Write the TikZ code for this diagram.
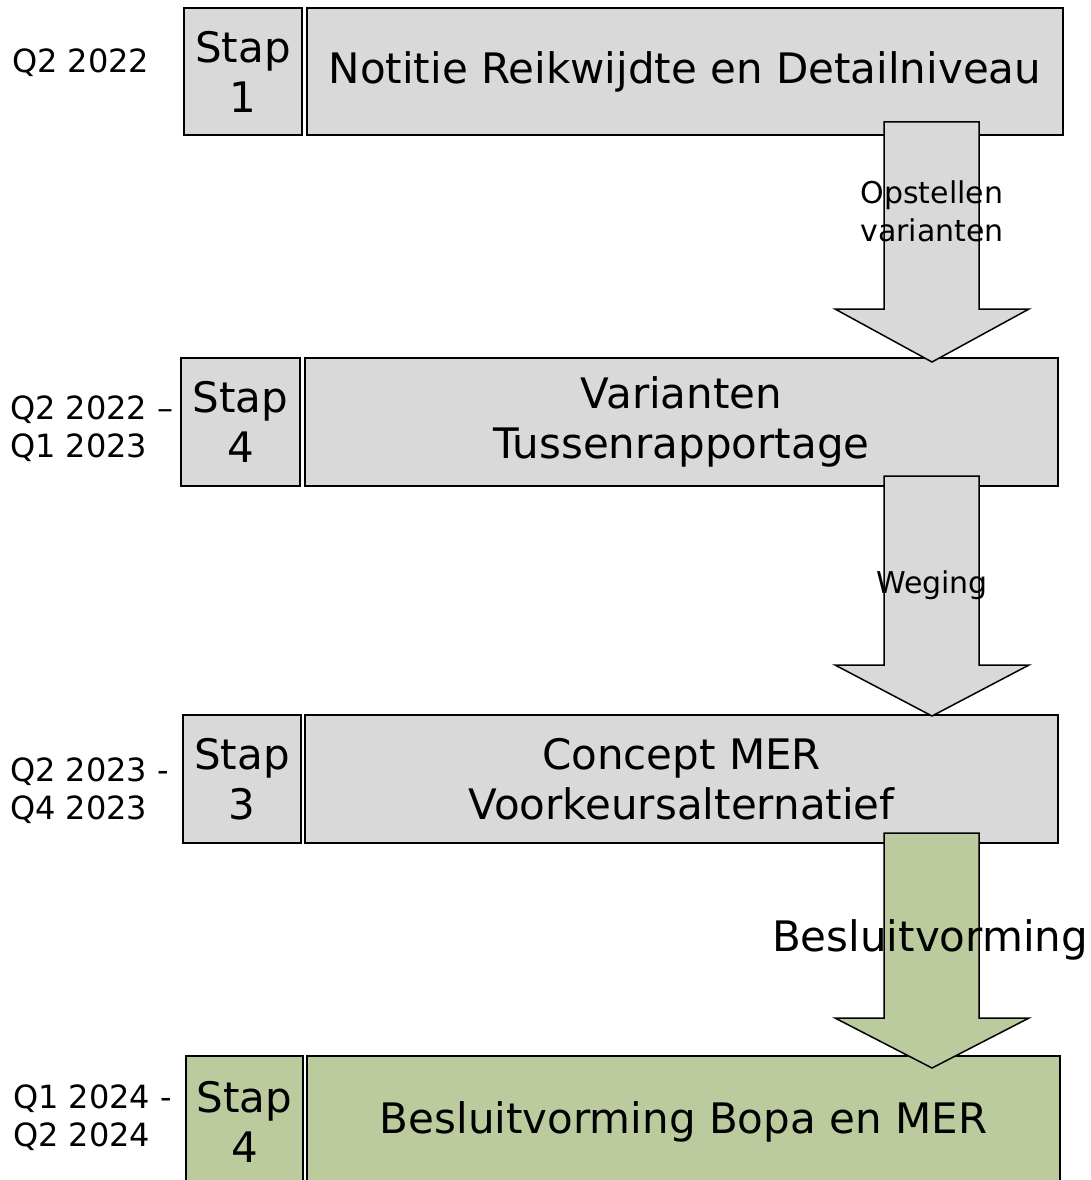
\documentclass[tikz,border=0pt]{standalone}
\usepackage{fontspec}
\setmainfont{DejaVu Sans}
\definecolor{boxgray}{RGB}{217,217,217}
\definecolor{boxgreen}{RGB}{187,203,158}
\begin{document}
\begin{tikzpicture}[x=1pt,y=-1pt,
  stepbox/.style={draw=black, line width=2pt, inner sep=0pt, align=center,
    font=\fontsize{42}{50}\selectfont},
  gray box/.style={stepbox, fill=boxgray},
  green box/.style={stepbox, fill=boxgreen},
  fatarrow/.style={draw=black, line width=1.5pt, line join=miter},
  arrowlabel/.style={align=center, inner sep=0pt, font=\fontsize{30}{38}\selectfont},
  datelabel/.style={anchor=west, align=left, inner sep=0pt, font=\fontsize{32}{38}\selectfont}]
\clip (0,0) rectangle (1090,1180);
% row 1
\node[gray box, minimum width=118pt, minimum height=127pt] (s1) at (243,71.5) {Stap\\1};
\node[gray box, minimum width=756pt, minimum height=127pt] (b1) at (685,71.5) {Notitie Reikwijdte en Detailniveau};
\node[datelabel] (d1) at (12,63) {Q2 2022};
% row 2
\node[gray box, minimum width=119pt, minimum height=128pt] (s2) at (240.5,422) {Stap\\4};
\node[gray box, minimum width=753pt, minimum height=128pt] (b2) at (681.5,422) {Varianten\\Tussenrapportage};
\node[datelabel] (d2) at (10,429) {Q2 2022 --\\Q1 2023};
% row 3
\node[gray box, minimum width=118pt, minimum height=128pt] (s3) at (242,779) {Stap\\3};
\node[gray box, minimum width=753pt, minimum height=128pt] (b3) at (681.5,779) {Concept MER\\Voorkeursalternatief};
\node[datelabel] (d3) at (10,791) {Q2 2023 -\\Q4 2023};
% row 4
\node[green box, minimum width=117pt, minimum height=132pt] (s4) at (244.5,1122) {Stap\\4};
\node[green box, minimum width=753pt, minimum height=132pt] (b4) at (683.5,1122) {Besluitvorming Bopa en MER};
\node[datelabel] (d4) at (13,1118) {Q1 2024 -\\Q2 2024};
% arrows
\draw[fatarrow, fill=boxgray] (884,122) -- (979,122) -- (979,309) -- (1029,309) -- (932,362) -- (835,309) -- (884,309) -- cycle;
\node[arrowlabel] (a1) at (932,211) {Opstellen\\varianten};
\draw[fatarrow, fill=boxgray] (884,476) -- (979,476) -- (979,665) -- (1029,665) -- (932,716) -- (835,665) -- (884,665) -- cycle;
\node[arrowlabel] (a2) at (932,585) {Weging};
\draw[fatarrow, fill=boxgreen] (884,833) -- (979,833) -- (979,1018) -- (1029,1018) -- (932,1068) -- (835,1018) -- (884,1018) -- cycle;
\node[arrowlabel, font=\fontsize{42}{50}\selectfont] (a3) at (930,940) {Besluitvorming};
\end{tikzpicture}
\end{document}
